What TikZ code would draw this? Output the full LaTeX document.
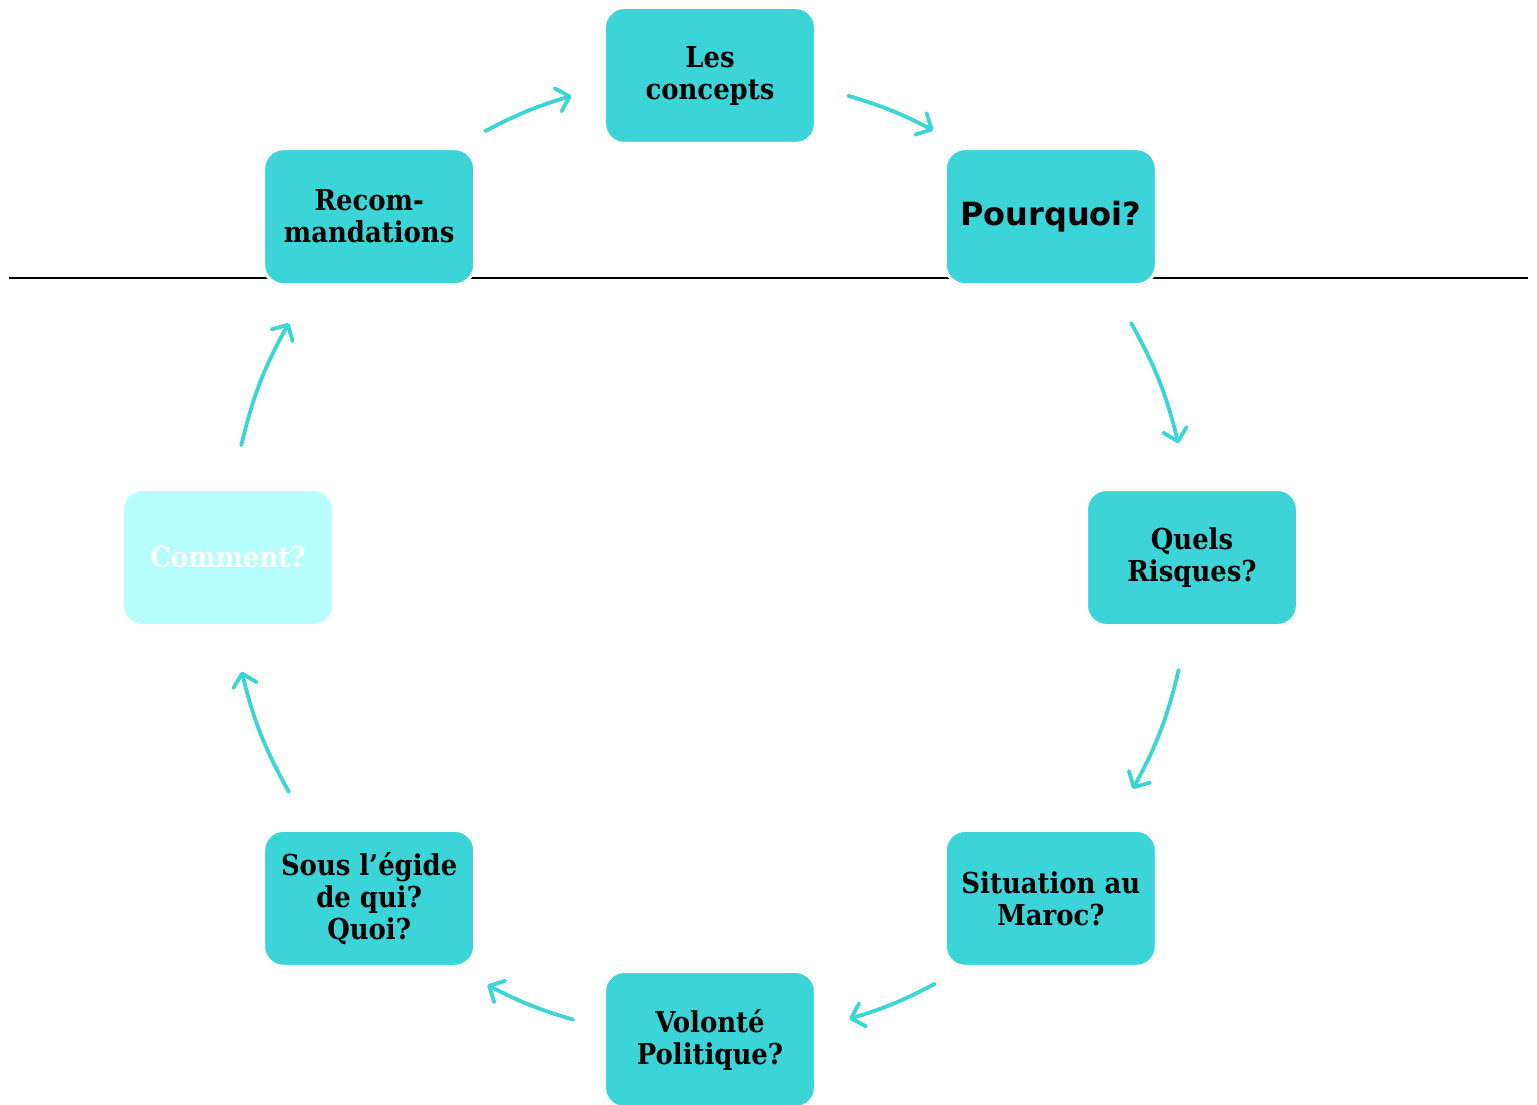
\documentclass[tikz,border=0pt]{standalone}
\usepackage{fontspec}
\setmainfont{DejaVu Serif Condensed}
\newfontfamily\headfont{DejaVu Sans}
\usetikzlibrary{arrows.meta}
\definecolor{cyclecol}{RGB}{59,213,215}
\definecolor{palecol}{RGB}{183,255,255}
\tikzset{
    box/.style = {
        rectangle,
        rounded corners=10pt,
        fill=cyclecol,
        draw=white,
        line width=1.5pt,
        minimum width=105.5pt,
        minimum height=68pt,
        align=center,
        font=\fontsize{14.4}{16}\selectfont\bfseries
    },
    pale/.style = {
        box,
        fill=palecol,
        text=white
    },
    flow/.style = {
        cyclecol,
        line width=1.9pt,
        line cap=round,
        -{Straight Barb[length=6pt,width=12pt,round]}
    },
    divider/.style = {
        black,
        line width=1pt
    }
}

\begin{document}
\begin{tikzpicture}[x=0.5pt,y=0.5pt]
    \newcommand\R{482}
    \useasboundingbox (-710,-546.5) rectangle (827,557.5);

    %Divider line
    \coordinate (lineL) at (-701,279.5);
    \coordinate (lineR) at (818,279.5);
    \draw[divider] (lineL) -- (lineR);

    %Steps
    \node[box] (concepts) at (90:\R) {Les\\concepts};
    \node[box] (pourquoi) at (45:\R) {\headfont\fontsize{16}{18}\selectfont\bfseries Pourquoi?};
    \node[box] (risques) at (0:\R) {Quels\\Risques?};
    \node[box] (maroc) at (-45:\R) {Situation au\\Maroc?};
    \node[box] (volonte) at (-90:\R) {Volonté\\Politique?};
    \node[box] (egide) at (-135:\R) {Sous l’égide\\de qui?\\Quoi?};
    \node[pale] (comment) at (180:\R) {Comment?};
    \node[box] (recom) at (135:\R) {Recom-\\mandations};

    %Arrow ends
    \coordinate (s1) at (73.3:\R);   \coordinate (e1) at (62.4:\R);
    \coordinate (s2) at (29.1:\R);   \coordinate (e2) at (13.7:\R);
    \coordinate (s3) at (-13.5:\R);  \coordinate (e3) at (-28.7:\R);
    \coordinate (s4) at (-62.2:\R);  \coordinate (e4) at (-73.2:\R);
    \coordinate (s5) at (-106.5:\R); \coordinate (e5) at (-117.5:\R);
    \coordinate (s6) at (-150.9:\R); \coordinate (e6) at (-166.3:\R);
    \coordinate (s7) at (166.5:\R);  \coordinate (e7) at (150.9:\R);
    \coordinate (s8) at (117.8:\R);  \coordinate (e8) at (106.7:\R);

    %Arrows
    \draw[flow] (s1) to[bend left=5.5] (e1);
    \draw[flow] (s2) to[bend left=7.7] (e2);
    \draw[flow] (s3) to[bend left=7.6] (e3);
    \draw[flow] (s4) to[bend left=5.5] (e4);
    \draw[flow] (s5) to[bend left=5.5] (e5);
    \draw[flow] (s6) to[bend left=7.7] (e6);
    \draw[flow] (s7) to[bend left=7.8] (e7);
    \draw[flow] (s8) to[bend left=5.5] (e8);
\end{tikzpicture}
\end{document}
